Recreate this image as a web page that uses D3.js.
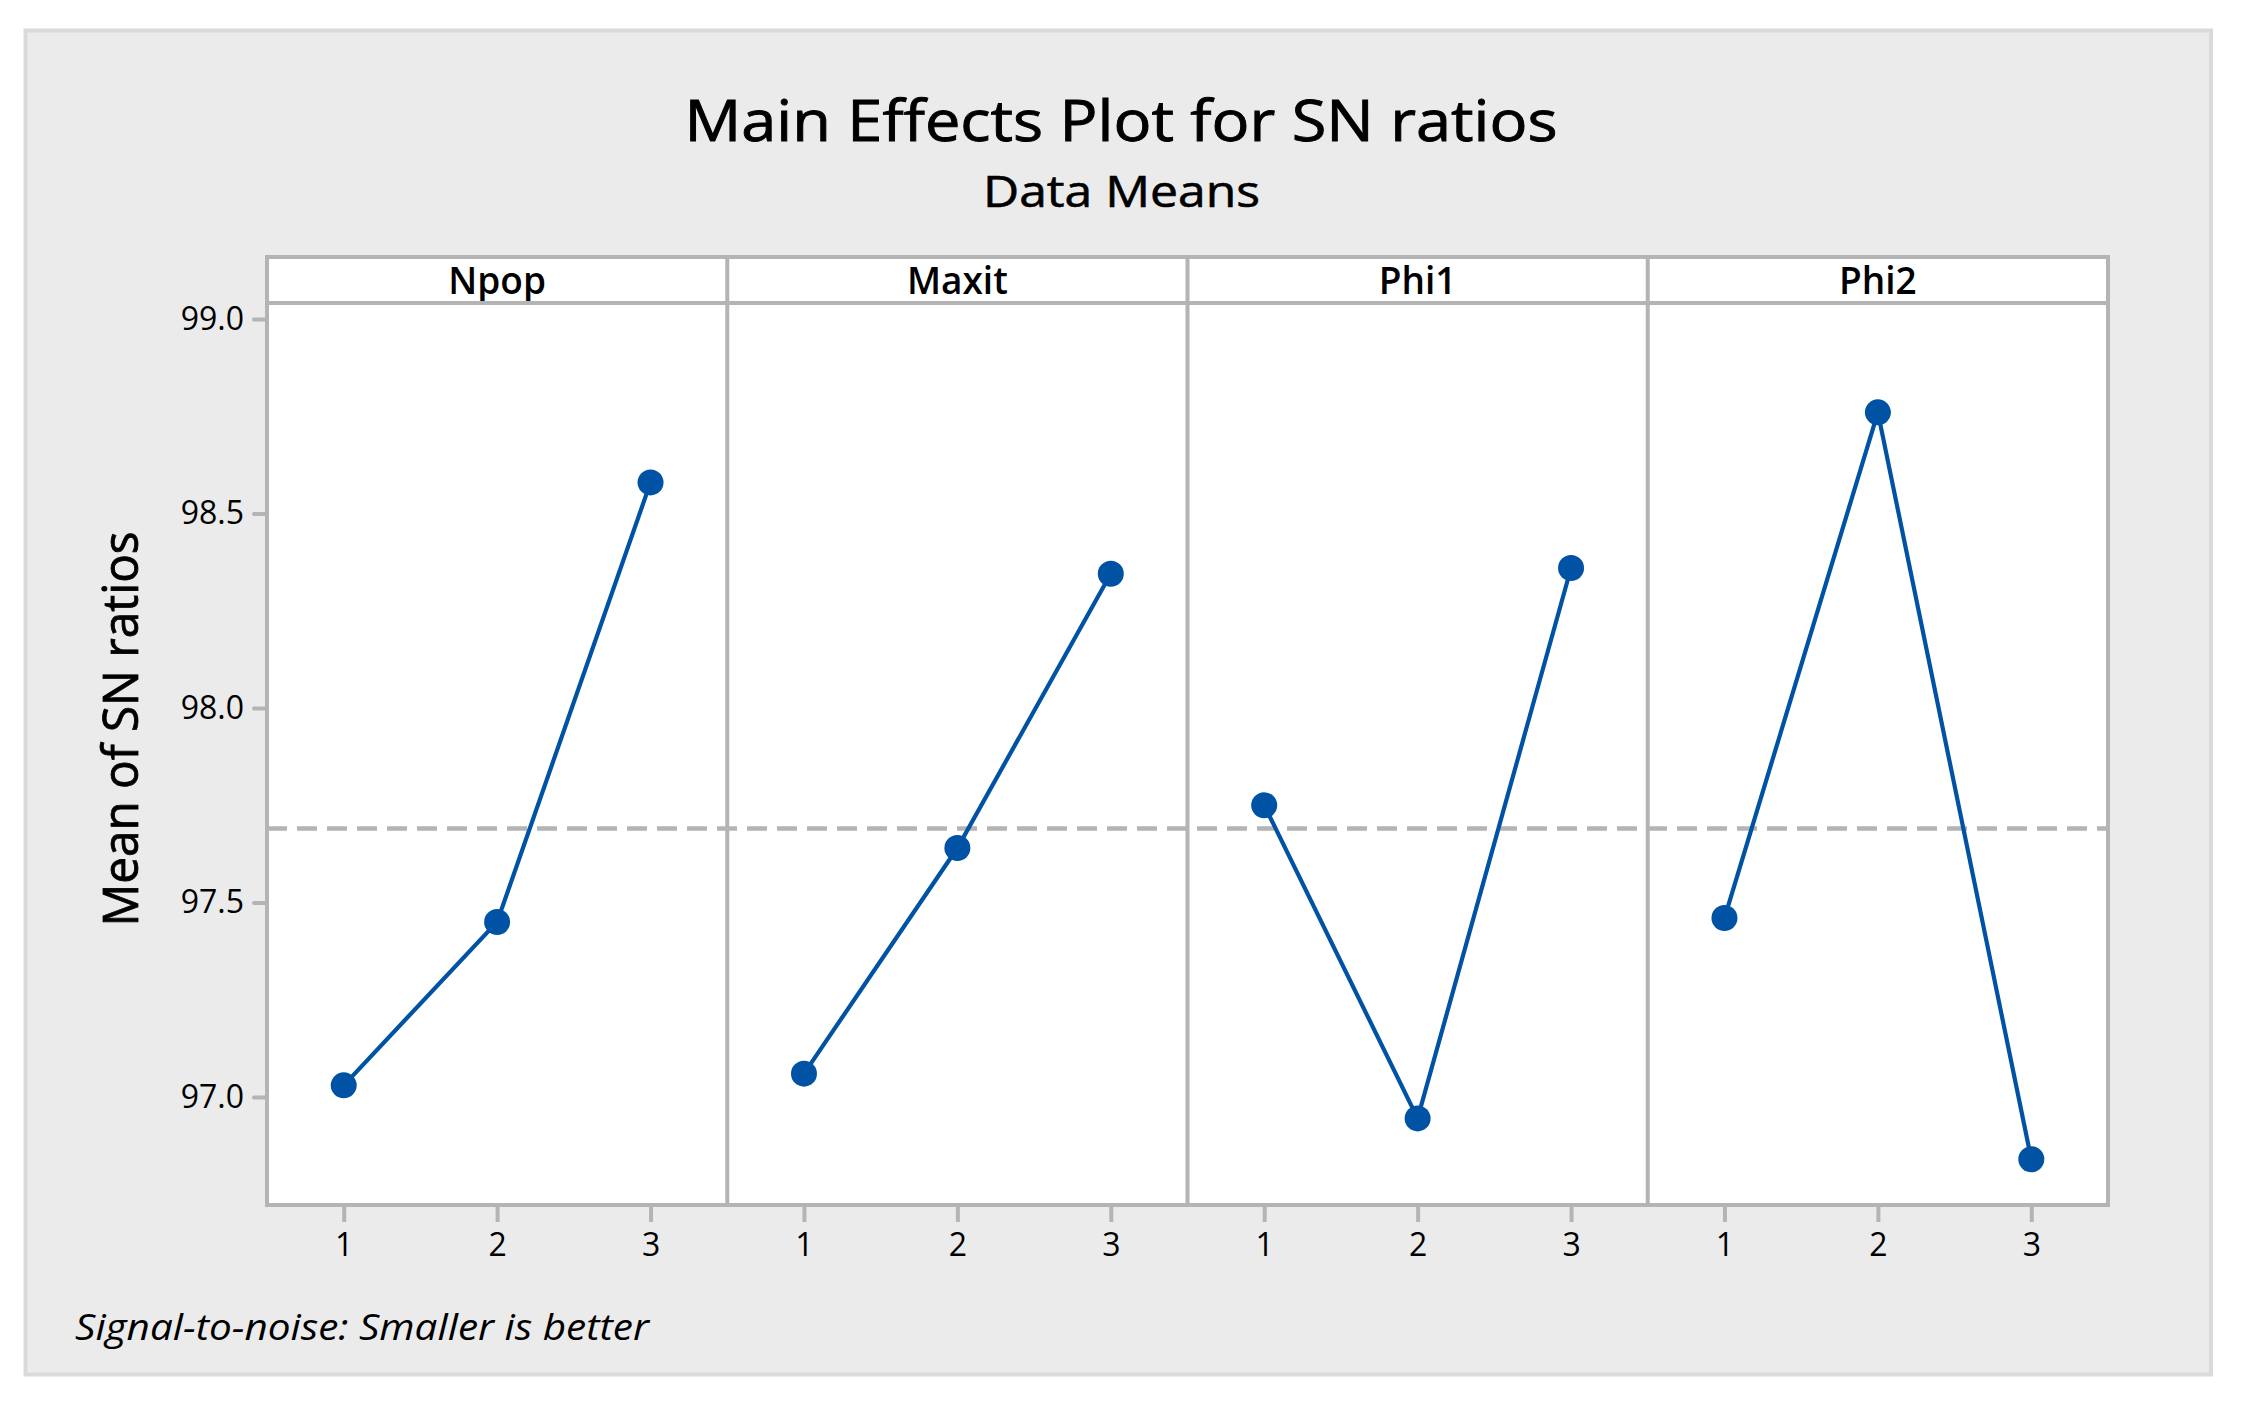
<!DOCTYPE html>
<html><head><meta charset="utf-8">
<script src="https://cdn.jsdelivr.net/npm/d3@7"></script>
<style>body{margin:0;background:#fff}svg{display:block}</style>
</head><body>
<svg id="c" width="2243" height="1406"></svg>
<script>
// ---- data ----
const factors = ["Npop", "Maxit", "Phi1", "Phi2"];
const levels = ["1", "2", "3"];
const npop  = [97.03, 97.45, 98.58];
const maxit = [97.06, 97.64, 98.345];
const phi1  = [97.75, 96.945, 98.36];
const phi2  = [97.46, 98.76, 96.84];
const overallMean = 97.69;
const yTicks = [97.0, 97.5, 98.0, 98.5, 99.0];
const titleText = "Main Effects Plot for SN ratios";
const subtitleText = "Data Means";
const yLabelText = "Mean of SN ratios";
const footnoteText = "Signal-to-noise: Smaller is better";

const seriesByFactor = {Npop: npop, Maxit: maxit, Phi1: phi1, Phi2: phi2};

// ---- layout ----
const FONT = "'Open Sans', 'Noto Sans', sans-serif";
const GRAY = "#b4b4b4", BLUE = "#0052a5";
const left = 267, right = 2108, stripTop = 257, stripBot = 303, bottom = 1205;

const svg = d3.select("#c").attr("font-family", FONT);

// outer background
svg.append("rect").attr("x", 25.5).attr("y", 30.5).attr("width", 2185.5).attr("height", 1344)
  .attr("fill", "#ebebeb").attr("stroke", "#dadada").attr("stroke-width", 4);

// titles
svg.append("text").attr("x", 1121).attr("y", 141).attr("text-anchor", "middle")
  .attr("font-size", 57).attr("font-weight", 500).attr("stroke", "#000").attr("stroke-width", 0.9)
  .attr("textLength", 873).attr("lengthAdjust", "spacingAndGlyphs")
  .text(titleText);
svg.append("text").attr("x", 1121.5).attr("y", 207).attr("text-anchor", "middle")
  .attr("font-size", 43).attr("font-weight", 500).attr("stroke", "#000").attr("stroke-width", 0.6)
  .attr("textLength", 277).attr("lengthAdjust", "spacingAndGlyphs")
  .text(subtitleText);

// scales
const xOuter = d3.scaleBand().domain(factors).range([left, right]).padding(0);
const xInner = d3.scalePoint().domain(levels).range([0, xOuter.bandwidth()]).padding(0.5);
const y = d3.scaleLinear().domain([97, 99]).range([1097, 319]);

// plot area background
svg.append("rect").attr("x", left).attr("y", stripTop).attr("width", right - left)
  .attr("height", bottom - stripTop).attr("fill", "#fff");

// reference mean line
svg.append("line").attr("x1", left).attr("x2", right)
  .attr("y1", y(overallMean)).attr("y2", y(overallMean))
  .attr("stroke", GRAY).attr("stroke-width", 4.5).attr("stroke-dasharray", "20 10");

// panels
const line = d3.line().x((d, i) => xInner(levels[i])).y(d => y(d));
factors.forEach(f => {
  const g = svg.append("g").attr("transform", `translate(${xOuter(f)},0)`);
  const vals = seriesByFactor[f];
  g.append("path").datum(vals).attr("d", line).attr("fill", "none")
    .attr("stroke", BLUE).attr("stroke-width", 4.2);
  g.selectAll("circle").data(vals).join("circle")
    .attr("cx", (d, i) => xInner(levels[i])).attr("cy", d => y(d)).attr("r", 13)
    .attr("fill", BLUE);
  // strip label
  g.append("text").attr("x", xOuter.bandwidth() / 2).attr("y", 294)
    .attr("text-anchor", "middle").attr("font-size", 37).attr("font-weight", 600)
    .text(f);
  // x axis
  const ax = g.append("g").attr("transform", `translate(0,${bottom})`)
    .call(d3.axisBottom(xInner).tickSize(17).tickPadding(11));
  ax.select(".domain").remove();
  ax.selectAll(".tick line").attr("stroke", GRAY).attr("stroke-width", 4);
  ax.selectAll(".tick text").attr("font-size", 32).attr("font-family", FONT).attr("fill", "#000");
});

// frame lines
const frame = svg.append("g").attr("stroke", GRAY).attr("stroke-width", 4).attr("fill", "none");
frame.append("rect").attr("x", left).attr("y", stripTop).attr("width", right - left)
  .attr("height", bottom - stripTop);
frame.append("line").attr("x1", left).attr("x2", right).attr("y1", stripBot).attr("y2", stripBot);
factors.slice(1).forEach(f => {
  frame.append("line").attr("x1", xOuter(f)).attr("x2", xOuter(f))
    .attr("y1", stripTop).attr("y2", bottom);
});

// y axis
const ay = svg.append("g").attr("transform", `translate(${left},0)`)
  .call(d3.axisLeft(y).tickValues(yTicks).tickFormat(d3.format(".1f")).tickSize(13).tickPadding(10));
ay.select(".domain").remove();
ay.selectAll(".tick line").attr("stroke", GRAY).attr("stroke-width", 4).attr("stroke-linecap", "round");
ay.selectAll(".tick text").attr("font-size", 32).attr("font-family", FONT).attr("fill", "#000");

// y label
svg.append("text").attr("transform", "translate(138,729) rotate(-90)")
  .attr("text-anchor", "middle").attr("font-size", 50).attr("font-weight", 500)
  .attr("stroke", "#000").attr("stroke-width", 0.8)
  .attr("textLength", 395).attr("lengthAdjust", "spacingAndGlyphs")
  .text(yLabelText);

// footnote
svg.append("text").attr("x", 75).attr("y", 1340).attr("font-size", 37).attr("font-style", "italic")
  .attr("textLength", 574).attr("lengthAdjust", "spacingAndGlyphs")
  .text(footnoteText);
</script>
</body></html>
